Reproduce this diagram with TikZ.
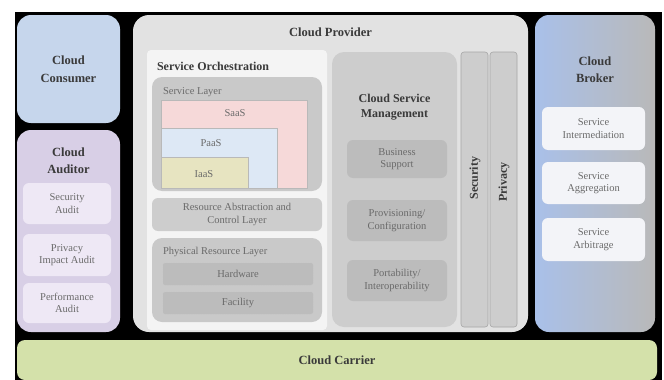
\documentclass[tikz,border=0pt]{standalone}
\usepackage{fontspec}
\setmainfont{Liberation Serif}
\usetikzlibrary{positioning}
\tikzset{ > = stealth }

\definecolor{consumerblue}{HTML}{C6D6EC}
\definecolor{auditorlilac}{HTML}{D8CFE6}
\definecolor{auditlilac}{HTML}{EEE8F5}
\definecolor{providergray}{HTML}{E2E2E2}
\definecolor{orchwhite}{HTML}{F4F4F4}
\definecolor{layergray}{HTML}{C9C9C9}
\definecolor{itemgray}{HTML}{BCBCBC}
\definecolor{saaspink}{HTML}{F6D9D9}
\definecolor{paasblue}{HTML}{DDE8F5}
\definecolor{iaasbeige}{HTML}{E7E4C1}
\definecolor{mgmtgray}{HTML}{CDCDCD}
\definecolor{brokerblue}{HTML}{A9C0E9}
\definecolor{brokerwhite}{HTML}{F3F4F8}
\definecolor{carriergreen}{HTML}{D4E1AA}
\definecolor{titletext}{HTML}{3A3A3A}
\definecolor{smalltext}{HTML}{6A6A6A}

\begin{document}
\begin{tikzpicture}
  [
    x = 1pt, y = -1pt,
    every node/.style = { inner sep = 0pt, outer sep = 0pt, anchor = north west },
    title/.style = { font = \fontsize{12}{15}\selectfont\bfseries, text = titletext, align = center, anchor = center },
    actor/.style = { rounded corners = 14pt, font = \fontsize{12.5}{18}\selectfont\bfseries, text = titletext, align = center },
    item/.style = { rounded corners = 6pt, font = \fontsize{10.5}{12.5}\selectfont, text = smalltext, align = center },
    layer/.style = { fill = layergray, rounded corners = 10pt }
  ]
    \useasboundingbox (0,0) rectangle (664,380);
    \fill [black] (15,12) rectangle (662,380);

    % left side
    \node (consumer) [actor, fill = consumerblue, minimum width = 103, minimum height = 108] at (17,15) {Cloud\\Consumer};
    \node (auditor) [actor, fill = auditorlilac, minimum width = 103, minimum height = 202] at (17,130) {};
    \node (auditor title) [title, font = \fontsize{12.5}{17}\selectfont\bfseries, below = 18pt of auditor.north] {Cloud\\Auditor};
    \node (secaudit) [item, fill = auditlilac, minimum width = 88, minimum height = 41] at (23,183) {Security\\Audit};
    \node (privaudit) [item, fill = auditlilac, minimum width = 88, minimum height = 42] at (23,234) {Privacy\\Impact Audit};
    \node (perfaudit) [item, fill = auditlilac, minimum width = 88, minimum height = 40] at (23,283) {Performance\\Audit};

    % provider
    \node (provider) [fill = providergray, rounded corners = 16pt, minimum width = 395, minimum height = 317] at (133,15) {};
    \node (provider title) [title, font = \fontsize{12.5}{15}\selectfont\bfseries, below = 13pt of provider.north] {Cloud Provider};
    \node (orch) [fill = orchwhite, rounded corners = 4pt, minimum width = 180, minimum height = 280] at (147,50) {};
    \node (orch title) [title, anchor = west] at (157,66) {Service Orchestration};
    \node (servlayer) [layer, minimum width = 170, minimum height = 114] at (152,77) {};
    \node (servlayer title) [font = \fontsize{10.5}{12}\selectfont, text = smalltext, anchor = west] at (163,92) {Service Layer};
    \node (saas) [fill = saaspink, draw = gray!55, line width = 1pt, minimum width = 146, minimum height = 88] at (161,100) {};
    \node [font = \fontsize{10.5}{12}\selectfont, text = smalltext, anchor = center] (saas text) at (235,113) {SaaS};
    \node (paas) [fill = paasblue, draw = gray!55, line width = 1pt, minimum width = 116, minimum height = 60] at (161,128) {};
    \node [font = \fontsize{10.5}{12}\selectfont, text = smalltext, anchor = center] (paas text) at (211,143) {PaaS};
    \node (iaas) [fill = iaasbeige, draw = gray!55, line width = 1pt, minimum width = 87, minimum height = 31] at (161,157) {};
    \node [font = \fontsize{10.5}{12}\selectfont, text = smalltext, anchor = center] (iaas text) at (204,174) {IaaS};
    \node (racl) [item, fill = mgmtgray, minimum width = 170, minimum height = 33] at (152,198) {Resource Abstraction and\\Control Layer};
    \node (physical) [layer, minimum width = 170, minimum height = 84] at (152,238) {};
    \node (physical title) [font = \fontsize{10.5}{12}\selectfont, text = smalltext, anchor = west] at (163,252) {Physical Resource Layer};
    \node (hardware) [item, rounded corners = 2pt, fill = itemgray, draw = gray!45, dotted, minimum width = 150, minimum height = 22] at (163,263) {Hardware};
    \node (facility) [item, rounded corners = 2pt, fill = itemgray, draw = gray!45, dotted, minimum width = 150, minimum height = 22] at (163,292) {Facility};

    % management and cross-cutting columns
    \node (csm) [fill = mgmtgray, rounded corners = 12pt, minimum width = 125, minimum height = 275] at (332,52) {};
    \node (csm title) [title, below = 42pt of csm.north] {Cloud Service\\Management};
    \node (business) [item, fill = itemgray, minimum width = 100, minimum height = 38] at (347,140) {Business\\Support};
    \node (provisioning) [item, fill = itemgray, minimum width = 100, minimum height = 41] at (347,200) {Provisioning/\\Configuration};
    \node (portability) [item, fill = itemgray, minimum width = 100, minimum height = 41] at (347,260) {Portability/\\Interoperability};
    \node (security) [fill = mgmtgray, draw = gray!70, line width = 0.6pt, rounded corners = 3pt, minimum width = 27, minimum height = 275] at (461,52) {};
    \node (privacy) [fill = mgmtgray, draw = gray!70, line width = 0.6pt, rounded corners = 3pt, minimum width = 27, minimum height = 275] at (490,52) {};
    \node (security text) [title, rotate = 90] at (475,178) {Security};
    \node (privacy text) [title, rotate = 90] at (504,182) {Privacy};

    % broker
    \node (broker) [actor, left color = brokerblue, middle color = brokerwhite, right color = gray!55, minimum width = 120, minimum height = 317] at (535,15) {};
    \node (broker title) [title, font = \fontsize{12.5}{17}\selectfont\bfseries, below = 42pt of broker.north] {Cloud\\Broker};
    \node (intermed) [item, fill = brokerwhite, minimum width = 103, minimum height = 43] at (542,107) {Service\\Intermediation};
    \node (aggreg) [item, fill = brokerwhite, minimum width = 103, minimum height = 42] at (542,162) {Service\\Aggregation};
    \node (arbit) [item, fill = brokerwhite, minimum width = 103, minimum height = 43] at (542,218) {Service\\Arbitrage};

    % carrier
    \node (carrier) [actor, rounded corners = 8pt, fill = carriergreen, minimum width = 640, minimum height = 40] at (17,340) {Cloud Carrier};
  \end{tikzpicture}
\end{document}
